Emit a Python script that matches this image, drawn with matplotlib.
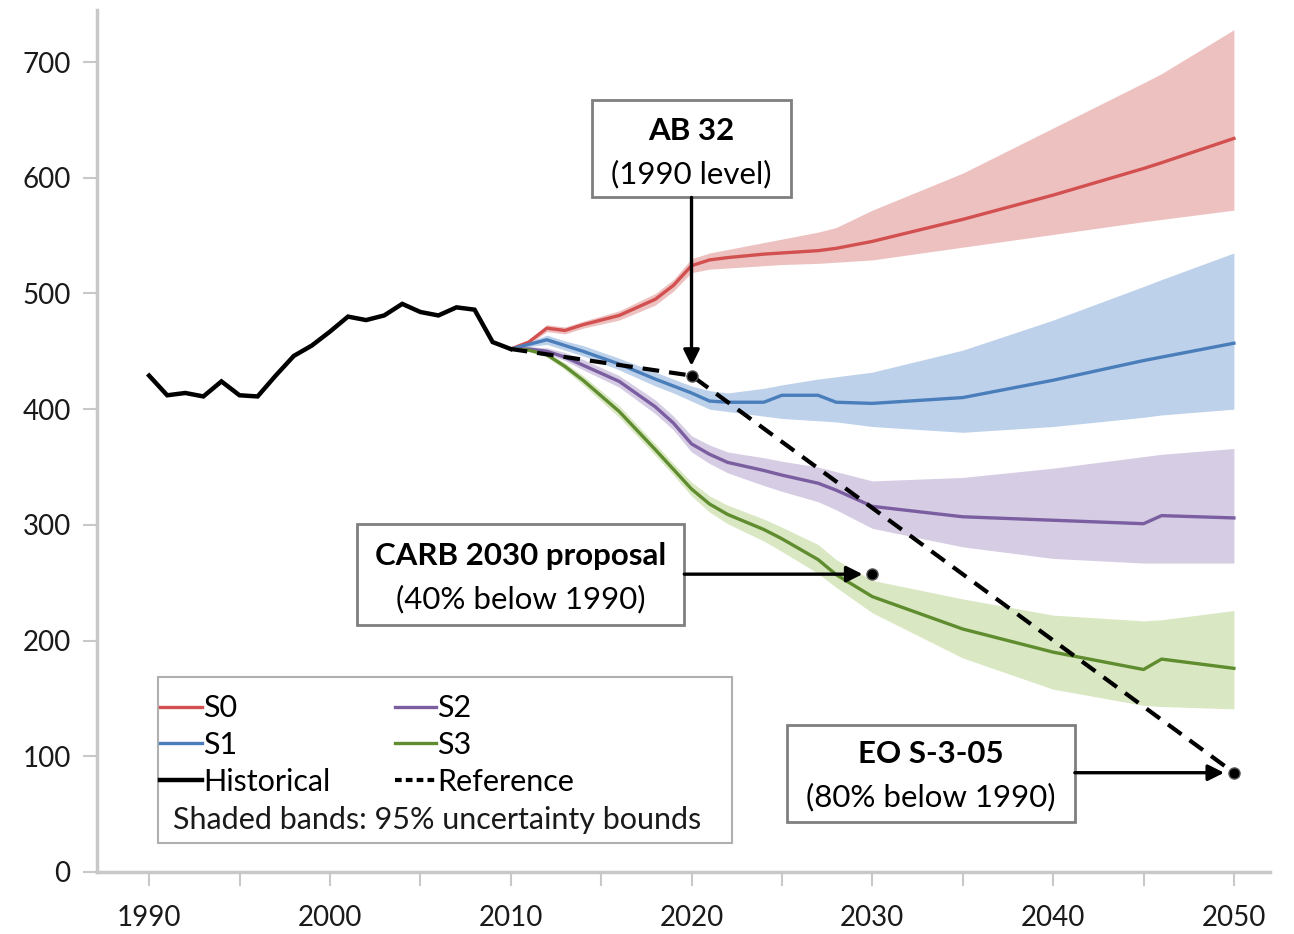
import numpy as np
import matplotlib.pyplot as plt
from matplotlib.lines import Line2D
from matplotlib.patches import Rectangle

plt.rcParams['font.family'] = ['Lato', 'DejaVu Sans']

# historical emissions, 1990-2010
hist_years = list(range(1990, 2011))
hist = [429, 412, 414, 411, 424, 412, 411, 429, 446, 455, 467,
        480, 477, 481, 491, 484, 481, 488, 486, 458, 452]

# scenario projections (median + 95% bounds)
scen_years = [2010, 2011, 2012, 2013, 2014, 2016, 2018, 2019, 2020, 2021, 2022,
              2024, 2025, 2027, 2028, 2030, 2035, 2040, 2045, 2046, 2050]

s0_mid = [452, 458, 470, 468, 473, 481, 495, 507, 524, 529, 531, 534, 535, 537, 539, 545, 564, 585, 608, 613, 634]
s0_lo = [452, 456, 467, 465, 470, 477, 490, 502, 518, 521, 522, 524, 525, 526, 527, 529, 540, 551, 562, 564, 572]
s0_hi = [452, 460, 473, 471, 476, 485, 500, 512, 530, 535, 538, 544, 547, 553, 557, 572, 604, 643, 682, 690, 728]

s1_mid = [452, 456, 460, 455, 450, 439, 426, 420, 414, 407, 406, 406, 412, 412, 406, 405, 410, 425, 442, 445, 457]
s1_lo = [452, 454, 456, 451, 446, 434, 420, 414, 407, 400, 398, 394, 392, 390, 389, 385, 380, 385, 393, 395, 400]
s1_hi = [452, 458, 464, 459, 455, 444, 432, 426, 420, 416, 414, 418, 421, 426, 428, 432, 451, 477, 506, 512, 535]

s2_mid = [452, 452, 450, 445, 438, 424, 402, 388, 370, 361, 354, 347, 343, 336, 330, 316, 307, 304, 301, 308, 306]
s2_lo = [452, 451, 448, 442, 434, 419, 396, 382, 363, 353, 345, 334, 329, 320, 313, 297, 281, 271, 267, 267, 267]
s2_hi = [452, 454, 453, 449, 443, 429, 408, 394, 377, 369, 363, 358, 355, 350, 346, 338, 341, 349, 359, 361, 366]

s3_mid = [452, 451, 447, 437, 425, 398, 365, 348, 331, 318, 309, 296, 288, 270, 257, 238, 210, 190, 175, 184, 176]
s3_lo = [452, 450, 445, 434, 421, 393, 360, 343, 325, 311, 301, 286, 277, 258, 246, 224, 185, 158, 144, 143, 141]
s3_hi = [452, 452, 449, 440, 429, 403, 370, 353, 337, 325, 317, 305, 298, 283, 270, 252, 236, 222, 217, 218, 226]

# policy targets relative to the 1990 level
level_1990 = hist[0]
target_years = [2020, 2030, 2050]
target_vals = [level_1990, 0.6 * level_1990, 0.2 * level_1990]
ref_years = [2010, 2020, 2050]
ref_vals = [hist[-1], level_1990, 0.2 * level_1990]

scenarios = [
    ('S0', s0_mid, s0_lo, s0_hi, '#d2504f', '#eec1c1'),
    ('S1', s1_mid, s1_lo, s1_hi, '#4a7ebb', '#bdd1ea'),
    ('S2', s2_mid, s2_lo, s2_hi, '#7a5ea0', '#d6cce4'),
    ('S3', s3_mid, s3_lo, s3_hi, '#5f8c2e', '#d9e7c2'),
]

fig = plt.figure(figsize=(12.94, 9.34), dpi=100)
ax = fig.add_axes([0.075, 0.0664, 0.9065, 0.9229])

for name, mid, lo, hi, lc, fc in scenarios:
    ax.fill_between(scen_years, lo, hi, color=fc, lw=0, zorder=1)
for name, mid, lo, hi, lc, fc in scenarios:
    ax.plot(scen_years, mid, color=lc, lw=2.4, zorder=3)

ax.plot(hist_years, hist, color='black', lw=3.2, zorder=4, solid_joinstyle='miter')
ax.plot(ref_years, ref_vals, color='black', lw=3, ls=(0, (4, 2.4)), zorder=5)
ax.plot(target_years, target_vals, 'o', color='black', ms=8, mec='#555555', zorder=8)

ax.set_xlim(1987.12, 2052.0)
ax.set_ylim(0, 745)

for s in ['top', 'right']:
    ax.spines[s].set_visible(False)
for s in ['left', 'bottom']:
    ax.spines[s].set_color('#c8c8c8')
    ax.spines[s].set_linewidth(2.5)

ax.set_yticks(range(0, 701, 100))
ax.set_xticks(range(1990, 2051, 10))
ax.set_xticks(range(1995, 2050, 10), minor=True)
ax.tick_params(axis='both', which='both', color='#c8c8c8', width=1.5, length=10,
               labelsize=20, labelcolor='#1a1a1a')
ax.tick_params(axis='x', which='both', pad=14)
ax.tick_params(axis='y', pad=9)

box_kw = dict(fc='white', ec='#7f7f7f', lw=2, zorder=6)
arrow_kw = dict(arrowstyle='-|>', color='black', lw=2.4, mutation_scale=24, shrinkA=0, shrinkB=7)
fs_box = 22.5

# AB 32
ax.add_patch(Rectangle((2014.5, 583), 11.0, 84, **box_kw))
ax.text(2020, 640, 'AB 32', ha='center', va='center', fontsize=fs_box, fontweight='bold', zorder=7)
ax.text(2020, 603, '(1990 level)', ha='center', va='center', fontsize=fs_box, zorder=7)
ax.annotate('', xy=(target_years[0], target_vals[0]), xytext=(2020, 583), arrowprops=arrow_kw, zorder=7)

# CARB 2030
ax.add_patch(Rectangle((2001.5, 213.5), 18.1, 87.5, **box_kw))
ax.text(2010.55, 273, 'CARB 2030 proposal', ha='center', va='center', fontsize=fs_box, fontweight='bold', zorder=7)
ax.text(2010.55, 236, '(40% below 1990)', ha='center', va='center', fontsize=fs_box, zorder=7)
ax.annotate('', xy=(target_years[1], target_vals[1]), xytext=(2019.6, target_vals[1]), arrowprops=arrow_kw, zorder=7)

# EO S-3-05
ax.add_patch(Rectangle((2025.3, 43), 15.9, 84, **box_kw))
ax.text(2033.25, 102, 'EO S-3-05', ha='center', va='center', fontsize=fs_box, fontweight='bold', zorder=7)
ax.text(2033.25, 65, '(80% below 1990)', ha='center', va='center', fontsize=fs_box, zorder=7)
ax.annotate('', xy=(target_years[2], target_vals[2]), xytext=(2041.2, target_vals[2]), arrowprops=arrow_kw, zorder=7)

# legend
handles = [Line2D([], [], color=sc[4], lw=2.4) for sc in scenarios[:2]]
handles.append(Line2D([], [], color='black', lw=3.2))
handles += [Line2D([], [], color=sc[4], lw=2.4) for sc in scenarios[2:]]
handles.append(Line2D([], [], color='black', lw=3, ls=(0, (1.6, 1.0))))
labels = ['S0', 'S1', 'Historical', 'S2', 'S3', 'Reference']
ax.add_patch(Rectangle((0.052, 0.0336), 0.489, 0.1925, transform=ax.transAxes,
                       fc='white', ec='#b0b0b0', lw=1.5, zorder=6))
ax.legend(handles, labels, ncol=2, loc='upper left', bbox_to_anchor=(0.054, 0.206),
          frameon=False, fontsize=22, handlelength=1.35, handletextpad=0.05,
          labelspacing=0.28, columnspacing=2.1, borderpad=0, borderaxespad=0).set_zorder(7)
ax.text(0.0645, 0.0603, 'Shaded bands: 95% uncertainty bounds', transform=ax.transAxes,
        ha='left', va='center', fontsize=22, color='#1a1a1a', zorder=7)

fig.savefig('out.png', dpi=100)
